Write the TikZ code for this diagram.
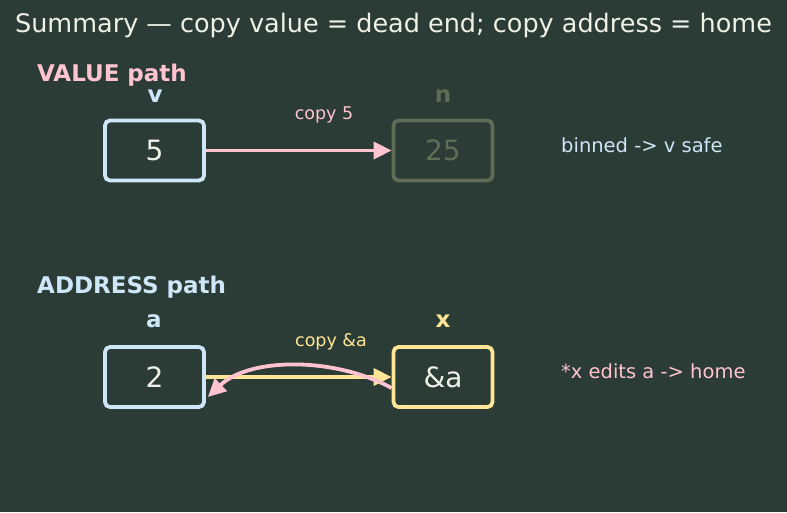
\documentclass[tikz,border=0pt]{standalone}
\usepackage{fontspec}
\setmainfont{DejaVu Sans}
\usetikzlibrary{arrows.meta}
\definecolor{bg}{HTML}{2B3B35}
\definecolor{lblue}{HTML}{CDE6F8}
\definecolor{lpink}{HTML}{FFC4D0}
\definecolor{lyel}{HTML}{FFE596}
\definecolor{gray}{HTML}{5E6D55}
\definecolor{txt}{HTML}{EEF2E6}
\begin{document}
\begin{tikzpicture}[x=1pt,y=-1pt,
  box/.style={draw,line width=3.8pt,rounded corners=5pt,minimum width=99pt,minimum height=60pt,inner sep=0pt,font=\fontsize{28}{32}\selectfont},
  lab/.style={font=\bfseries\fontsize{23}{27}\selectfont},
  small/.style={font=\fontsize{17.5}{21}\selectfont},
  note/.style={font=\fontsize{19.5}{23}\selectfont,anchor=west,inner sep=0pt},
  arr/.style={line width=3.8pt,-{Triangle[length=18pt,width=17pt]}}]
\fill[bg] (0,0) rectangle (787,512);
\useasboundingbox (0,0) rectangle (787,512);
\node[txt,font=\fontsize{25.5}{30}\selectfont] (title) at (393.5,25) {Summary — copy value = dead end; copy address = home};
\node[lpink,lab,anchor=west,inner sep=0pt] (vp) at (37,75) {VALUE path};
\node[lblue,lab,anchor=west,inner sep=0pt] (ap) at (37,287) {ADDRESS path};
\node[box,lblue,text=txt] (v) at (154.5,150.5) {5};
\node[box,gray,text=gray] (n) at (443,150.5) {25};
\node[box,lblue,text=txt] (a) at (154.5,377) {2};
\node[box,lyel,text=txt] (x) at (443,377) {\&a};
\node[lab,lblue] (vl) at (155,96) {v};
\node[lab,gray] (nl) at (443,96) {n};
\node[lab,lblue] (al) at (154,321) {a};
\node[lab,lyel] (xl) at (443,321) {x};
\draw[arr,lpink] (v.east) -- (n.west);
\node[small,lpink] (c5) at (324,115) {copy 5};
\draw[arr,lyel] (a.east) -- (x.west);
\node[small,lyel] (ca) at (331,342) {copy \&a};
\draw[arr,lpink] ([yshift=-11pt]x.west) .. controls (335,357) and (250,357) .. ([xshift=2pt,yshift=-20pt]a.east);
\node[note,lblue] (bn) at (561,145) {binned -> v safe};
\node[note,lpink] (xe) at (561,371) {*x edits a -> home};
\end{tikzpicture}
\end{document}
